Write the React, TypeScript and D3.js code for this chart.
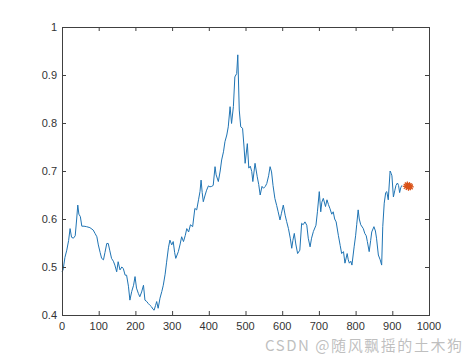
import React from 'react';
import * as d3 from 'd3';

const width = 474;
const height = 355;
const margin = { top: 27, right: 45, bottom: 40, left: 62 };

// series
const xs = [
  0, 3, 8, 13, 18, 22, 26, 31, 36, 40, 43, 46, 50, 54, 60, 67, 76, 85, 90, 95, 99, 104, 108, 113, 117, 122, 126, 130,
  135, 140, 144, 149, 153, 158, 163, 167, 172, 176, 181, 185, 190, 195, 199, 203, 208, 212, 217, 222, 226, 231, 235,
  240, 244, 248, 251, 255, 258, 262, 267, 272, 276, 281, 285, 290, 294, 299, 303, 307, 310, 317, 322, 326, 331, 336,
  340, 345, 350, 356, 362, 367, 372, 376, 379, 382, 385, 390, 394, 399, 403, 408, 412, 417, 420, 426, 431, 435, 440,
  444, 449, 453, 458, 462, 467, 471, 476, 479, 483, 487, 492, 496, 499, 505, 509, 513, 517, 520, 526, 532, 536, 540,
  545, 549, 554, 558, 563, 567, 571, 575, 580, 585, 589, 594, 598, 603, 608, 612, 617, 622, 626, 629, 633, 637, 642,
  648, 653, 657, 662, 667, 671, 676, 680, 685, 692, 696, 701, 705, 708, 712, 718, 722, 726, 730, 735, 739, 743, 747,
  753, 758, 762, 767, 771, 777, 780, 783, 787, 790, 796, 800, 803, 807, 810, 814, 821, 825, 829, 832, 837, 841, 844,
  850, 854, 857, 862, 867, 871, 874, 878, 882, 885, 889, 894, 897, 899, 903, 907, 910, 914, 917, 920, 923, 926,
];
const ys = [
  0.49, 0.494, 0.52, 0.535, 0.555, 0.58, 0.562, 0.56, 0.565, 0.6, 0.629, 0.61, 0.605, 0.585, 0.585, 0.584, 0.582,
  0.577, 0.57, 0.563, 0.546, 0.53, 0.518, 0.515, 0.53, 0.549, 0.549, 0.535, 0.518, 0.512, 0.504, 0.49, 0.511, 0.494,
  0.5, 0.497, 0.483, 0.483, 0.46, 0.431, 0.449, 0.462, 0.48, 0.456, 0.445, 0.438, 0.448, 0.462, 0.431, 0.428, 0.424,
  0.42, 0.417, 0.412, 0.41, 0.42, 0.428, 0.414, 0.435, 0.449, 0.462, 0.485, 0.51, 0.54, 0.556, 0.546, 0.553, 0.53,
  0.518, 0.532, 0.548, 0.563, 0.553, 0.566, 0.58, 0.573, 0.588, 0.584, 0.622, 0.619, 0.64, 0.657, 0.681, 0.655, 0.636,
  0.65, 0.66, 0.669, 0.667, 0.668, 0.67, 0.709, 0.692, 0.678, 0.7, 0.723, 0.74, 0.761, 0.775, 0.792, 0.834, 0.799,
  0.834, 0.896, 0.903, 0.942, 0.827, 0.792, 0.789, 0.75, 0.716, 0.757, 0.706, 0.71, 0.699, 0.678, 0.716, 0.688, 0.672,
  0.65, 0.668, 0.664, 0.668, 0.674, 0.69, 0.709, 0.698, 0.67, 0.643, 0.628, 0.615, 0.598, 0.612, 0.629, 0.608, 0.595,
  0.58, 0.56, 0.539, 0.555, 0.57, 0.548, 0.528, 0.535, 0.591, 0.588, 0.594, 0.587, 0.56, 0.542, 0.56, 0.574, 0.587,
  0.615, 0.657, 0.615, 0.635, 0.643, 0.626, 0.64, 0.63, 0.622, 0.61, 0.615, 0.6, 0.594, 0.566, 0.545, 0.528, 0.532,
  0.508, 0.528, 0.515, 0.508, 0.512, 0.504, 0.542, 0.565, 0.588, 0.619, 0.6, 0.588, 0.58, 0.57, 0.565, 0.553, 0.532,
  0.555, 0.573, 0.584, 0.575, 0.56, 0.525, 0.515, 0.504, 0.584, 0.633, 0.655, 0.657, 0.64, 0.7, 0.695, 0.69, 0.646,
  0.66, 0.67, 0.675, 0.67, 0.655, 0.665, 0.67,
];

// orange star markers
const markX = [938, 941, 944, 947, 949];
const markY = [0.668, 0.671, 0.666, 0.669, 0.667];

const xTicks = [0, 100, 200, 300, 400, 500, 600, 700, 800, 900, 1000];
const yTicks = [0.4, 0.5, 0.6, 0.7, 0.8, 0.9, 1];

export default function App() {
  const x = d3.scaleLinear().domain([0, 1000]).range([margin.left, width - margin.right]);
  const y = d3.scaleLinear().domain([0.4, 1]).range([height - margin.bottom, margin.top]);

  const line = d3
    .line<number>()
    .x((d, i) => x(xs[i]))
    .y((d) => y(d));

  const x0 = x(0);
  const x1 = x(1000);
  const y0 = y(0.4);
  const y1 = y(1);
  const axisColor = '#404040';
  const font = 'Arial, "Liberation Sans", Helvetica, sans-serif';

  return (
    <svg
      width={width}
      height={height}
      style={{ position: 'absolute', left: 0, top: 0, background: '#fff' }}
    >
      <path d={line(ys) || ''} fill="none" stroke="#1f74b4" strokeWidth={1} />

      {markX.map((mx, i) => {
        const cx = x(mx);
        const cy = y(markY[i]);
        const r = 3.5;
        return (
          <g key={i} stroke="#D95319" strokeWidth={1.2}>
            <line x1={cx - r} y1={cy} x2={cx + r} y2={cy} />
            <line x1={cx} y1={cy - r} x2={cx} y2={cy + r} />
            <line x1={cx - r * 0.7} y1={cy - r * 0.7} x2={cx + r * 0.7} y2={cy + r * 0.7} />
            <line x1={cx - r * 0.7} y1={cy + r * 0.7} x2={cx + r * 0.7} y2={cy - r * 0.7} />
          </g>
        );
      })}

      <rect
        x={x0 + 0.5}
        y={y1 + 0.5}
        width={x1 - x0}
        height={y0 - y1}
        fill="none"
        stroke={axisColor}
        strokeWidth={1}
      />

      {xTicks.map((t) => (
        <g key={'x' + t}>
          <line x1={x(t) + 0.5} x2={x(t) + 0.5} y1={y0} y2={y0 - 4} stroke={axisColor} />
          <line x1={x(t) + 0.5} x2={x(t) + 0.5} y1={y1} y2={y1 + 4} stroke={axisColor} />
          <text x={x(t)} y={y0 + 15} textAnchor="middle" fontFamily={font} fontSize={11} fill="#333">
            {t}
          </text>
        </g>
      ))}

      {yTicks.map((t) => (
        <g key={'y' + t}>
          <line x1={x0} x2={x0 + 4} y1={y(t) + 0.5} y2={y(t) + 0.5} stroke={axisColor} />
          <line x1={x1} x2={x1 - 4} y1={y(t) + 0.5} y2={y(t) + 0.5} stroke={axisColor} />
          <text
            x={x0 - 5}
            y={y(t) + 4}
            textAnchor="end"
            fontFamily={font}
            fontSize={11}
            fill="#333"
          >
            {t}
          </text>
        </g>
      ))}

      <text
        x={265}
        y={351}
        fontFamily={'"Noto Sans CJK SC", Arial, sans-serif'}
        fontSize={15}
        textLength={197}
        fill="#b4b4b4"
        fillOpacity={0.85}
      >
        CSDN @随风飘摇的土木狗
      </text>
    </svg>
  );
}
